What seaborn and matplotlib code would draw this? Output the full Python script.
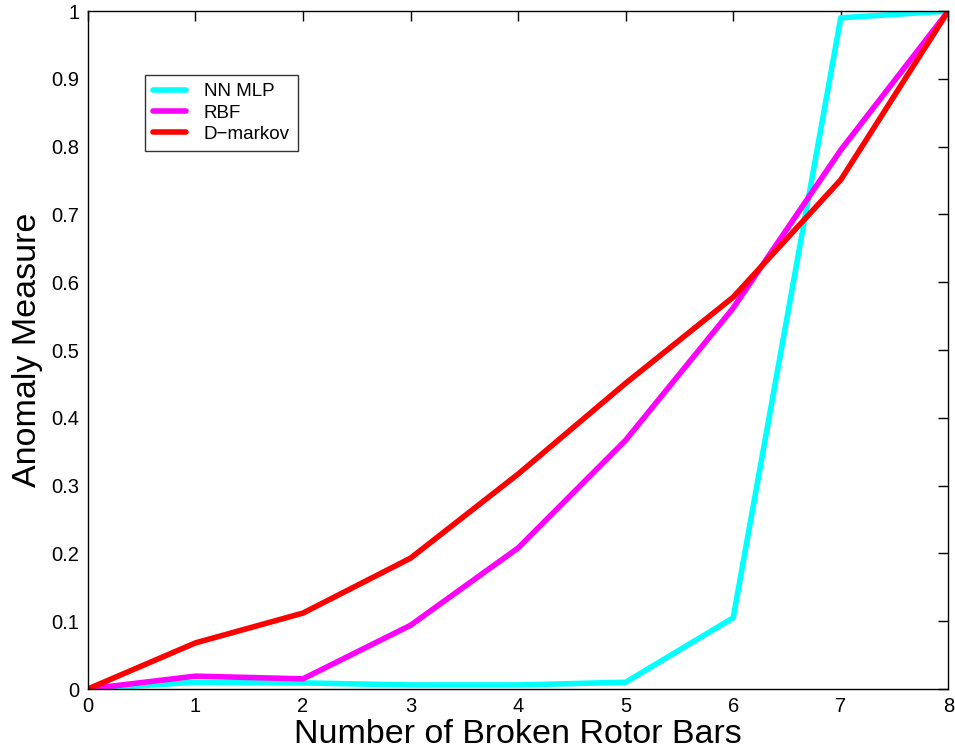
import matplotlib
matplotlib.use("Agg")
import matplotlib.pyplot as plt
import seaborn as sns
import pandas as pd

bars = [0, 1, 2, 3, 4, 5, 6, 7, 8]
nn_mlp = [0.0, 0.010, 0.009, 0.006, 0.006, 0.010, 0.105, 0.990, 1.0]
rbf = [0.0, 0.019, 0.015, 0.094, 0.208, 0.367, 0.562, 0.795, 1.0]
d_markov = [0.0, 0.068, 0.112, 0.193, 0.317, 0.451, 0.578, 0.751, 1.0]
series_names = ["NN MLP", "RBF", "D\u2212markov"]
colors = ["#00ffff", "#ff00ff", "#ff0000"]
x_ticks = [0, 1, 2, 3, 4, 5, 6, 7, 8]
y_ticks = [0, 0.1, 0.2, 0.3, 0.4, 0.5, 0.6, 0.7, 0.8, 0.9, 1]
y_tick_labels = ["0", "0.1", "0.2", "0.3", "0.4", "0.5", "0.6", "0.7", "0.8", "0.9", "1"]

df = pd.concat([
    pd.DataFrame({"bars": bars, "value": vals, "method": name})
    for name, vals in zip(series_names, [nn_mlp, rbf, d_markov])
])

sns.set_style("white")
plt.rcParams["font.family"] = ["Liberation Sans", "DejaVu Sans"]
plt.rcParams["text.color"] = "black"
plt.rcParams["axes.labelcolor"] = "black"

fig = plt.figure(figsize=(9.55, 7.55), dpi=100)
ax = fig.add_axes([0.092, 0.0874, 0.901, 0.898])

sns.lineplot(data=df, x="bars", y="value", hue="method", hue_order=series_names,
             palette=colors, linewidth=4, ax=ax, sort=False)

ax.set_xlim(0, 8)
ax.set_ylim(0, 1)
ax.set_xticks(x_ticks)
ax.set_yticks(y_ticks)
ax.set_yticklabels(y_tick_labels)
ax.tick_params(direction="in", length=7, width=1, top=True, right=True,
               labelsize=14.5, colors="black", pad=6)
for s in ax.spines.values():
    s.set_color("black")
    s.set_linewidth(1)

ax.set_xlabel("Number of Broken Rotor Bars", fontsize=24.5, labelpad=2, color="black")
ax.set_ylabel("Anomaly Measure", fontsize=24.5, labelpad=6, color="black")

leg = ax.legend(loc="upper left", bbox_to_anchor=(0.066, 0.906), fontsize=13.5,
                frameon=True, fancybox=False, handlelength=1.75, borderaxespad=0,
                borderpad=0.45, labelspacing=0.22, handletextpad=0.95)
leg.get_frame().set_edgecolor("black")
leg.get_frame().set_linewidth(1)
for t in leg.get_texts():
    t.set_color("black")

fig.savefig("out.png", dpi=100)
